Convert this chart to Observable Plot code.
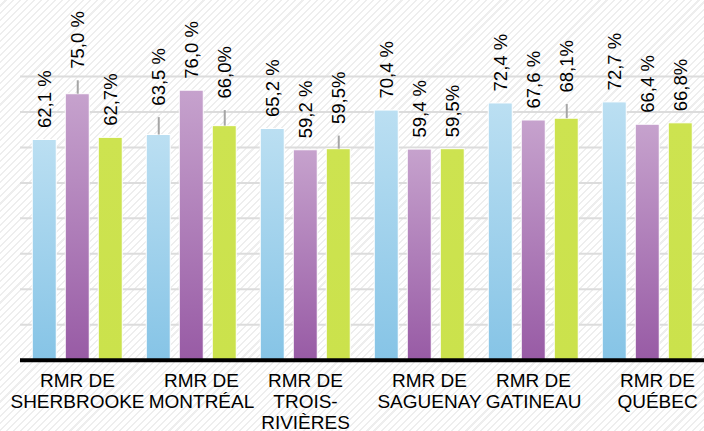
<!DOCTYPE html>
<html>
<head>
<meta charset="utf-8">
<script src="https://cdn.jsdelivr.net/npm/d3@7"></script>
<script src="https://cdn.jsdelivr.net/npm/@observablehq/plot@0.6"></script>
<style>
  html, body { margin: 0; padding: 0; }
  body {
    width: 704px; height: 431px; overflow: hidden;
    background: repeating-linear-gradient(135deg, #ffffff 0px, #ffffff 3.5px, #eeeeee 3.5px, #eeeeee 5px);
    font-family: "Liberation Sans", Arial, sans-serif;
  }
  #chart svg { display: block; }
</style>
</head>
<body>
<div id="chart"></div>
<script>
// ---- data ----
const cities = [
  "RMR DE\nSHERBROOKE",
  "RMR DE\nMONTRÉAL",
  "RMR DE\nTROIS-\nRIVIÈRES",
  "RMR DE\nSAGUENAY",
  "RMR DE\nGATINEAU",
  "RMR DE\nQUÉBEC"
];
const series = ["Série 1", "Série 2", "Série 3"];
const blueValues   = [62.1, 63.5, 65.2, 70.4, 72.4, 72.7];
const purpleValues = [75.0, 76.0, 59.2, 59.4, 67.6, 66.4];
const greenValues  = [62.7, 66.0, 59.5, 59.5, 68.1, 66.8];
// upper whisker lengths (percentage points)
const blueErr   = [0, 4.9, 0, 0, 0, 0];
const purpleErr = [3.8, 0, 0, 0, 0, 0];
const greenErr  = [0, 4.4, 3.7, 0, 4.0, 0];
const labelSuffix = [" %", " %", "%"];
const gridTicks = [10, 20, 30, 40, 50, 60, 70, 80];

// ---- table ----
const valuesBySeries = [blueValues, purpleValues, greenValues];
const errBySeries = [blueErr, purpleErr, greenErr];
const fillIds = ["gBlue", "gPurple", "gGreen"];
const fmt = d3.format(".1f");
const rows = [];
cities.forEach((city, i) => {
  series.forEach((s, j) => {
    const v = valuesBySeries[j][i];
    rows.push({
      city, series: s, si: j, value: v, err: errBySeries[j][i],
      label: fmt(v).replace(".", ",") + labelSuffix[j]
    });
  });
});

const barMarks = series.map((s, j) =>
  Plot.barY(rows.filter(d => d.si === j), {
    fx: "city", x: "series", y: "value",
    fill: `url(#${fillIds[j]})`, stroke: "white", strokeWidth: 1
  })
);

const catLabel = (data, dx) => Plot.text(data, {
  fx: d => d, text: d => d, frameAnchor: "bottom", dy: 12, dx,
  lineAnchor: "top", lineHeight: 1.1, fontSize: 19, fill: "black"
});

const chart = Plot.plot({
  width: 704,
  height: 431,
  marginTop: 76,
  marginBottom: 71.3,
  marginLeft: 18.75,
  marginRight: -1.75,
  style: { background: "transparent", fontFamily: "'Liberation Sans', Arial, sans-serif", color: "black" },
  fx: { domain: cities, padding: 0, axis: null, label: null },
  x: { domain: series, paddingInner: 0.27, paddingOuter: 0.344, axis: null, label: null },
  y: { domain: [0, 80], axis: null, label: null },
  marks: [
    Plot.ruleY(gridTicks, { stroke: "#dcdcdc", strokeWidth: 2 }),
    ...barMarks,
    Plot.ruleX(rows.filter(d => d.err > 0), {
      fx: "city", x: "series", y1: "value", y2: d => d.value + d.err,
      stroke: "#a6a6a6", strokeWidth: 2
    }),
    Plot.text(rows, {
      fx: "city", x: "series", y: d => d.value + d.err, text: "label",
      rotate: -90, textAnchor: "start", dy: -12, fontSize: 18.5, fill: "black"
    }),
    Plot.ruleY([0], { stroke: "black", strokeWidth: 4 }),
    catLabel(cities.filter((d, i) => i % 2 === 0), 0),
    catLabel(cities.filter((d, i) => i % 2 === 1), 10)
  ]
});

// gradient definitions for bar fills
const defs = d3.select(chart).insert("defs", ":first-child");
const grads = [
  { id: "gBlue", top: "#bbdff2", bottom: "#86c4e6" },
  { id: "gPurple", top: "#c6a2cd", bottom: "#985ba5" },
  { id: "gGreen", top: "#cde350", bottom: "#cbe24c" }
];
grads.forEach(g => {
  const lg = defs.append("linearGradient").attr("id", g.id)
    .attr("x1", 0).attr("y1", 0).attr("x2", 0).attr("y2", 1);
  lg.append("stop").attr("offset", "0%").attr("stop-color", g.top);
  lg.append("stop").attr("offset", "100%").attr("stop-color", g.bottom);
});

document.getElementById("chart").appendChild(chart);
</script>
</body>
</html>
